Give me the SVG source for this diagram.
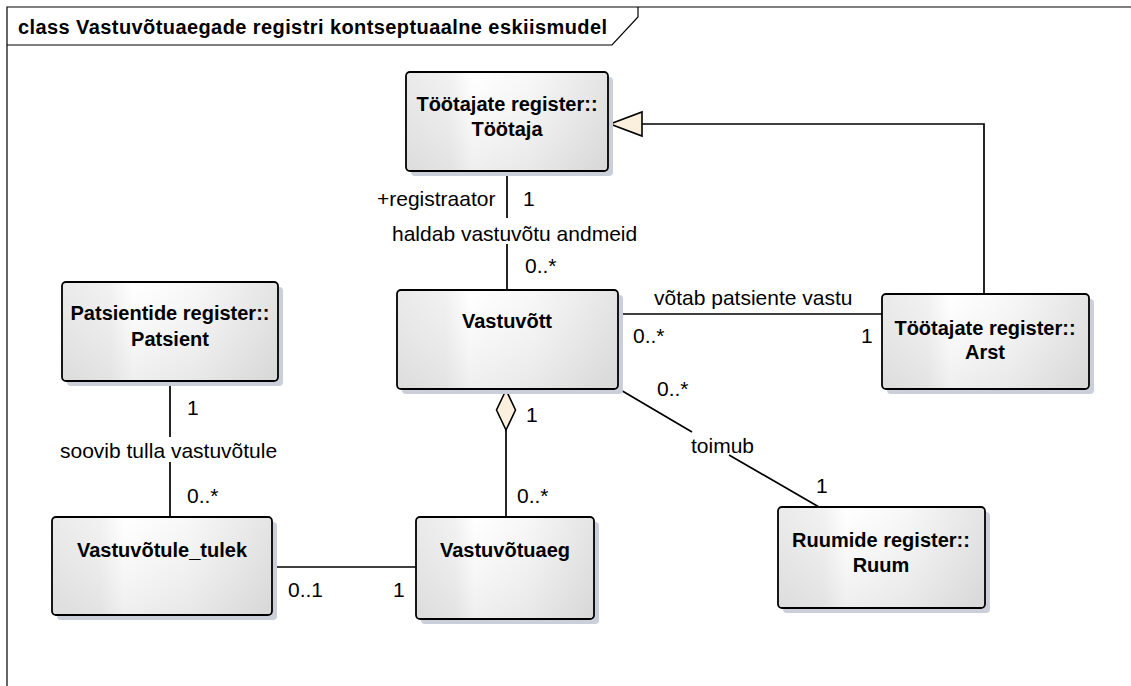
<svg xmlns="http://www.w3.org/2000/svg" width="1131" height="686" viewBox="0 0 1131 686">
  <defs>
    <!-- soft horizontal sheen used on every class box -->
    <linearGradient id="sheen" x1="0" y1="0" x2="1" y2="0">
      <stop offset="0" stop-color="#E3E3E3"/>
      <stop offset="0.22" stop-color="#EDEDED"/>
      <stop offset="0.33" stop-color="#FFFFFF"/>
      <stop offset="0.62" stop-color="#F5F5F5"/>
      <stop offset="1" stop-color="#DBDBDB"/>
    </linearGradient>
    <linearGradient id="fade" x1="0" y1="0" x2="0" y2="1">
      <stop offset="0" stop-color="#FFFFFF" stop-opacity="0.25"/>
      <stop offset="1" stop-color="#D0D0D0" stop-opacity="0.35"/>
    </linearGradient>
  </defs>
  <style>
    .frame { fill: none; stroke: #000; stroke-width: 1.2; }
    .title { font: bold 20px "Liberation Sans", Arial, sans-serif; fill: #000; }
    .shadow { fill: #CBCFDA; }
    .box { fill: url(#sheen); stroke: #000; stroke-width: 1.8; }
    .fade { fill: url(#fade); stroke: none; }
    .name { font: bold 20px "Liberation Sans", Arial, sans-serif; text-anchor: middle; fill: #000; }
    .conn { fill: none; stroke: #000; stroke-width: 1.7; }
    .lbl { font: 21px "Liberation Sans", Arial, sans-serif; fill: #000; }
    .head { fill: #FBF0DE; stroke: #000; stroke-width: 1.6; }
  </style>

  <rect width="1131" height="686" fill="#FFFFFF"/>

  <!-- diagram frame and its name tab -->
  <path class="frame" d="M7,686 V7 H1131"/>
  <path class="frame" d="M7,45 H612 L638,17 V7"/>
  <text class="title" x="18" y="34" textLength="589" lengthAdjust="spacing">class Vastuvõtuaegade registri kontseptuaalne eskiismudel</text>

  <!-- connectors -->
  <g id="connectors">
    <!-- Töötaja - Vastuvõtt -->
    <path class="conn" d="M507,172 V218 M507,244 V290"/>
    <!-- generalization Arst -> Töötaja -->
    <path class="conn" d="M984,294 V124 H642"/>
    <polygon class="head" points="610,124 642,112 642,136"/>
    <!-- Vastuvõtt - Arst -->
    <path class="conn" d="M618,314 H882"/>
    <!-- Vastuvõtt - Ruum -->
    <path class="conn" d="M619,389 L692,432 M729,455 L819,507"/>
    <!-- aggregation Vastuvõtt <>- Vastuvõtuaeg -->
    <path class="conn" d="M506,430 V517"/>
    <polygon class="head" points="506,390 515.5,410 506,430 496.5,410"/>
    <!-- Patsient - Vastuvõtule_tulek -->
    <path class="conn" d="M170,381 V437 M170,462 V517"/>
    <!-- Vastuvõtule_tulek - Vastuvõtuaeg -->
    <path class="conn" d="M272,567 H416"/>

    <text class="lbl" x="377" y="206">+registraator</text>
    <text class="lbl" x="523" y="206">1</text>
    <text class="lbl" x="392" y="241">haldab vastuvõtu andmeid</text>
    <text class="lbl" x="525" y="273">0..*</text>
    <text class="lbl" x="654" y="305">võtab patsiente vastu</text>
    <text class="lbl" x="633" y="343">0..*</text>
    <text class="lbl" x="861" y="343">1</text>
    <text class="lbl" x="657" y="396">0..*</text>
    <text class="lbl" x="691" y="453">toimub</text>
    <text class="lbl" x="816" y="493">1</text>
    <text class="lbl" x="526" y="422">1</text>
    <text class="lbl" x="517" y="503">0..*</text>
    <text class="lbl" x="187" y="415">1</text>
    <text class="lbl" x="60" y="458">soovib tulla vastuvõtule</text>
    <text class="lbl" x="187" y="503">0..*</text>
    <text class="lbl" x="288" y="597">0..1</text>
    <text class="lbl" x="393" y="597">1</text>
  </g>

  <!-- class boxes -->
  <g id="tootaja">
    <rect class="shadow" x="411" y="77" width="202" height="99" rx="4"/>
    <rect class="box" x="406" y="72" width="202" height="99" rx="4"/>
    <rect class="fade" x="407" y="73" width="200" height="97" rx="3"/>
    <text class="name" x="507" y="111">Töötajate register::</text>
    <text class="name" x="507" y="136">Töötaja</text>
  </g>

  <g id="vastuvott">
    <rect class="shadow" x="402" y="295" width="221" height="99" rx="4"/>
    <rect class="box" x="397" y="290" width="221" height="99" rx="4"/>
    <rect class="fade" x="398" y="291" width="219" height="97" rx="3"/>
    <text class="name" x="507" y="328">Vastuvõtt</text>
  </g>

  <g id="arst">
    <rect class="shadow" x="887" y="299" width="207" height="95" rx="4"/>
    <rect class="box" x="882" y="294" width="207" height="95" rx="4"/>
    <rect class="fade" x="883" y="295" width="205" height="93" rx="3"/>
    <text class="name" x="985" y="335">Töötajate register::</text>
    <text class="name" x="985" y="359">Arst</text>
  </g>

  <g id="patsient">
    <rect class="shadow" x="67" y="287" width="216" height="99" rx="4"/>
    <rect class="box" x="62" y="282" width="216" height="99" rx="4"/>
    <rect class="fade" x="63" y="283" width="214" height="97" rx="3"/>
    <text class="name" x="170" y="320">Patsientide register::</text>
    <text class="name" x="170" y="346">Patsient</text>
  </g>

  <g id="vastuvotule-tulek">
    <rect class="shadow" x="57" y="522" width="220" height="98" rx="4"/>
    <rect class="box" x="52" y="517" width="220" height="98" rx="4"/>
    <rect class="fade" x="53" y="518" width="218" height="96" rx="3"/>
    <text class="name" x="162" y="557">Vastuvõtule_tulek</text>
  </g>

  <g id="vastuvotuaeg">
    <rect class="shadow" x="421" y="522" width="178" height="102" rx="4"/>
    <rect class="box" x="416" y="517" width="178" height="102" rx="4"/>
    <rect class="fade" x="417" y="518" width="176" height="100" rx="3"/>
    <text class="name" x="505" y="557">Vastuvõtuaeg</text>
  </g>

  <g id="ruum">
    <rect class="shadow" x="783" y="512" width="207" height="101" rx="4"/>
    <rect class="box" x="778" y="507" width="207" height="101" rx="4"/>
    <rect class="fade" x="779" y="508" width="205" height="99" rx="3"/>
    <text class="name" x="881" y="547">Ruumide register::</text>
    <text class="name" x="881" y="572">Ruum</text>
  </g>
</svg>
